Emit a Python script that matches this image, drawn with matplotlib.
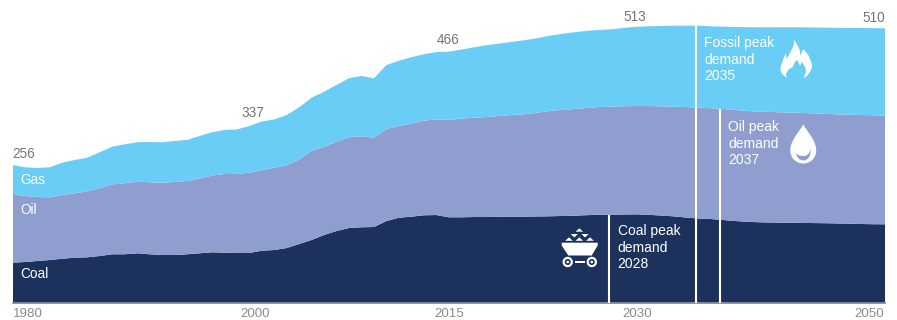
import numpy as np
import matplotlib
matplotlib.use("Agg")
import matplotlib.pyplot as plt
from matplotlib.patches import Circle, PathPatch, Polygon, Rectangle
from matplotlib.path import Path

plt.rcParams["font.family"] = ["Liberation Sans", "DejaVu Sans"]

W, H = 897, 320

years = list(range(1980, 2051))

coal = [73.7, 75.0, 76.9, 78.7, 81.1, 83.0, 83.7, 86.1, 89.3, 89.3,
        91.1, 89.3, 88.0, 88.0, 89.3, 91.1, 93.0, 92.2, 91.7, 91.7,
        95.9, 97.2, 100.9, 108.3, 115.8, 125.0, 132.4, 138.0, 139.3, 139.8,
        150.9, 157.0, 158.9, 161.5, 162.0, 157.8, 157.8, 158.3, 158.3, 158.7,
        158.9, 158.9, 159.3, 159.6, 160.2, 160.7, 161.7, 162.4, 162.6, 163.0,
        163.3, 162.4, 161.1, 159.6, 157.4, 155.6, 154.6, 152.8, 150.9, 149.4,
        148.5, 148.1, 147.8, 147.4, 147.2, 146.9, 146.5, 145.9, 145.4, 145.0,
        144.8]

oil = [127.2, 122.2, 118.5, 116.1, 118.0, 119.3, 122.2, 125.4, 129.6, 131.5,
       132.6, 133.3, 133.9, 135.2, 135.8, 138.9, 141.9, 145.8, 146.3, 148.7,
       149.5, 152.4, 153.2, 156.9, 164.8, 163.0, 165.4, 168.0, 168.5, 165.4,
       170.4, 169.8, 172.2, 175.2, 177.2, 180.2, 182.6, 183.9, 185.2, 186.7,
       188.3, 189.6, 191.7, 195.0, 196.3, 197.6, 198.5, 199.6, 200.0, 200.4,
       200.6, 201.5, 202.2, 203.0, 204.6, 205.6, 205.2, 205.6, 205.6, 205.2,
       204.8, 204.6, 204.1, 203.9, 203.3, 202.8, 202.2, 201.9, 201.9, 201.7,
       201.1]

gas = [53.7, 53.2, 53.7, 55.6, 59.8, 61.7, 62.2, 66.7, 69.6, 72.2,
       73.0, 74.6, 74.8, 75.9, 75.9, 78.3, 80.4, 81.5, 82.4, 86.5,
       89.8, 89.3, 93.2, 96.3, 98.7, 102.4, 105.0, 109.3, 111.7, 110.0,
       118.5, 120.9, 123.0, 123.0, 124.6, 126.5, 127.8, 130.4, 132.8, 133.9,
       135.2, 137.0, 138.0, 138.9, 140.7, 142.0, 142.6, 142.6, 143.3, 145.0,
       146.7, 147.6, 148.7, 150.0, 150.6, 151.5, 151.7, 152.4, 153.7, 155.2,
       156.3, 156.9, 157.8, 158.3, 158.9, 159.4, 160.0, 160.6, 161.1, 161.3,
       161.9]

series_names = ["Coal", "Oil", "Gas"]
colors = ["#1C325D", "#8F9ECE", "#69CDF6"]

tick_labels = ["1980", "2000", "2015", "2030", "2050"]
total_labels = ["256", "337", "466", "513", "510"]

peak_years = [2027.85, 2034.85, 2036.8]
peak_names = ["Coal", "Fossil", "Oil"]
peak_labels = ["2028", "2035", "2037"]

BASE_PX = 302.5
PX_PER_UNIT = 0.54


def draw_icons(ov):
    # flame
    flame = [(786.7, 77.7), (782, 74), (780.7, 71), (780.5, 67), (781.7, 63.3), (785.7, 53.3),
             (786.7, 59), (790.7, 51.7), (793.5, 46), (794.3, 40), (798.3, 46.7), (800, 51),
             (800, 55.7), (803.3, 49), (808.3, 55), (811.7, 63.3), (812, 67), (810.7, 71),
             (807, 76), (803.3, 78.3), (805.7, 73), (805.7, 68), (801.7, 61.7), (800, 66),
             (797.5, 60), (795, 61.7), (793.5, 65), (792.7, 67), (788, 70), (786, 74)]
    ov.add_patch(Polygon(flame, closed=True, fc="white", ec="none"))

    # drop with a crescent cut out
    verts = [(803.3, 124.5), (800, 131), (790.3, 140), (790.3, 150.3),
             (790.3, 158), (796, 163.5), (803.3, 163.5),
             (810.5, 163.5), (816.2, 158), (816.2, 150.3),
             (816.2, 140), (806.5, 131), (803.3, 124.5)]
    codes = [Path.MOVETO] + [Path.CURVE4] * 12
    ov.add_patch(PathPatch(Path(verts, codes), fc="white", ec="none"))
    cres = [(796, 153), (797, 158), (800, 160.5), (803.5, 160.5),
            (808, 160.5), (811, 156), (810.7, 149),
            (809.5, 154), (807, 156), (803.5, 156),
            (800.5, 156), (798, 155.5), (796, 153)]
    ov.add_patch(PathPatch(Path(cres, codes), fc=colors[1], ec="none"))

    # mine cart
    ov.add_patch(Polygon([(579.3, 228.3), (575.5, 231.7), (583.1, 231.7)], fc="white", ec="none"))
    for cx in [574.3, 585]:
        ov.add_patch(Polygon([(cx - 3.6, 234), (cx + 3.6, 234), (cx, 237.5)], fc="white", ec="none"))
    for cx in [569, 579.3, 590]:
        ov.add_patch(Polygon([(cx, 237.3), (cx - 3.8, 240.8), (cx + 3.8, 240.8)], fc="white", ec="none"))
    ov.add_patch(Polygon([(561.7, 242.7), (597.7, 242.7), (597.7, 245.5), (591.7, 255.5),
                          (568.3, 255.5), (561.7, 245.5)], fc="white", ec="none"))
    ov.add_patch(Rectangle((574.7, 261), 10.6, 2.2, fc="white", ec="none"))
    for cx in [567.7, 591.8]:
        ov.add_patch(Circle((cx, 262), 5.2, fc="white", ec="none"))
        ov.add_patch(Circle((cx, 262), 3.0, fc=colors[0], ec="none"))
        ov.add_patch(Circle((cx, 262), 1.3, fc="white", ec="none"))


def main():
    fig = plt.figure(figsize=(W / 100, H / 100), dpi=100)

    ax = fig.add_axes([12.5 / W, (H - BASE_PX) / H, 872.5 / W, BASE_PX / H])
    ax.stackplot(years, coal, oil, gas, colors=colors, linewidth=0)
    ax.set_xlim(1980, 2050)
    ax.set_ylim(0, BASE_PX / PX_PER_UNIT)
    ax.axis("off")
    ax.axhline(0, color="#7B808C", lw=1.2, clip_on=False)

    coal_top = np.array(coal)
    oil_top = coal_top + np.array(oil)
    all_top = oil_top + np.array(gas)
    tops = [coal_top, all_top, oil_top]
    for yr, top in zip(peak_years, tops):
        ax.plot([yr, yr], [0, np.interp(yr, years, top)], color="white", lw=1.5, solid_capstyle="butt")

    # overlay in pixels for text and icons
    ov = fig.add_axes([0, 0, 1, 1])
    ov.set_xlim(0, W)
    ov.set_ylim(H, 0)
    ov.axis("off")
    ov.patch.set_alpha(0)

    # series names
    for name, y in zip(series_names, [278.5, 213.5, 184.5]):
        ov.text(20.5, y, name, color="white", fontsize=9.8, va="baseline", ha="left")

    # totals
    total_pos = [(12.5, 158, "left"), (253, 117, "center"), (448, 44, "center"),
                 (634.7, 21, "center"), (885, 22, "right")]
    for lab, (x, y, ha) in zip(total_labels, total_pos):
        ov.text(x, y, lab, color="#757575", fontsize=9.8, va="baseline", ha=ha)

    # x labels
    tick_pos = [(12.5, "left"), (255, "center"), (449, "center"), (636.7, "center"), (884, "right")]
    for lab, (x, ha) in zip(tick_labels, tick_pos):
        ov.text(x, 317, lab, color="#8C8C8C", fontsize=9.6, va="baseline", ha=ha)

    # peak notes
    note_pos = [(617.5, 235.5), (704.5, 47.5), (728.5, 131.5)]
    for name, lab, (x, y) in zip(peak_names, peak_labels, note_pos):
        lines = [f"{name} peak", "demand", lab]
        for i, line in enumerate(lines):
            ov.text(x, y + 16 * i, line, color="white", fontsize=10, va="baseline", ha="left")

    draw_icons(ov)

    fig.savefig("out.png", dpi=100)
    plt.close(fig)


if __name__ == "__main__":
    main()
